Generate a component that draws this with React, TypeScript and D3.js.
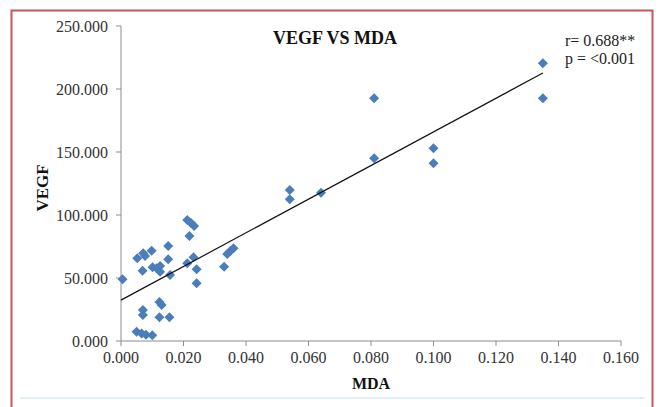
import React from "react";
import * as d3 from "d3";

const mda = [0.0005, 0.005, 0.0066, 0.008, 0.010, 0.007, 0.007, 0.0123, 0.013, 0.0123, 0.0155,
  0.0052, 0.0071, 0.0077, 0.0098, 0.0069, 0.0101, 0.0114, 0.0125, 0.0125, 0.0151, 0.0151, 0.0157,
  0.0212, 0.0223, 0.0234, 0.0219, 0.0212, 0.0232, 0.0242, 0.0242, 0.033, 0.034, 0.035, 0.036,
  0.054, 0.054, 0.064, 0.081, 0.081, 0.100, 0.100, 0.135, 0.135];
const vegf = [49, 7.4, 6, 5, 4.5, 24.6, 20.6, 31, 28.6, 18.8, 18.8,
  65.6, 69.6, 67.5, 71.7, 55.8, 58.5, 57.7, 59.5, 55, 75.4, 64.8, 52.4,
  96, 93.9, 91.3, 83.3, 61.7, 66.4, 56.9, 45.8, 59, 69, 71.4, 73.6,
  119.8, 112.5, 117.7, 192.6, 145, 152.9, 141, 220.4, 192.6];
const xTicks = [0, 0.02, 0.04, 0.06, 0.08, 0.1, 0.12, 0.14, 0.16];
const yTicks = [0, 50, 100, 150, 200, 250];
const title = "VEGF VS MDA";
const xLabel = "MDA";
const yLabel = "VEGF";
const stats = ["r= 0.688**", "p = <0.001"];

export default function App() {
  const W = 660, H = 407;
  const left = 121, right = 621, top = 26, bottom = 341;
  const x = d3.scaleLinear().domain([0, 0.16]).range([left, right]);
  const y = d3.scaleLinear().domain([0, 250]).range([bottom, top]);
  const pts = mda.map((v, i) => [v, vegf[i]] as [number, number]);
  const mx = d3.mean(mda)!, my = d3.mean(vegf)!;
  let sxy = 0, sxx = 0;
  pts.forEach(([a, b]) => { sxy += (a - mx) * (b - my); sxx += (a - mx) * (a - mx); });
  const slope = sxy / sxx, icpt = my - slope * mx;
  const xMax = d3.max(mda)!;
  const line = d3.line<number>().x(d => x(d)).y(d => y(icpt + slope * d));
  const sym = d3.symbol().type(d3.symbolSquare).size(50)();
  const font = "'Liberation Serif', 'Times New Roman', serif";
  const axisCol = "#8c8c8c";
  return (
    <svg width={W} height={H} style={{ position: "absolute", left: 0, top: 0, background: "#fff" }} fontFamily={font}>
      <rect x={0} y={0} width={W} height={H} fill="#fff" />
      <line x1={20} x2={645} y1={398} y2={398} stroke="#e4eef8" strokeWidth={2} />
      <rect x={11.5} y={10.5} width={641} height={420} fill="none" stroke="#c8555a" strokeWidth={2} />
      <line x1={left} x2={left} y1={top} y2={bottom} stroke={axisCol} strokeWidth={1} />
      <line x1={left} x2={right} y1={bottom} y2={bottom} stroke={axisCol} strokeWidth={1} />
      {yTicks.map(t => (
        <g key={"y" + t}>
          <line x1={left - 5} x2={left} y1={y(t)} y2={y(t)} stroke={axisCol} />
          <text x={108} y={y(t) + 5.5} textAnchor="end" fontSize={16} fill="#333">{t.toFixed(3)}</text>
        </g>
      ))}
      {xTicks.map(t => (
        <g key={"x" + t}>
          <line x1={x(t)} x2={x(t)} y1={bottom} y2={bottom + 5} stroke={axisCol} />
          <text x={x(t)} y={bottom + 22} textAnchor="middle" fontSize={16} fill="#333">{t.toFixed(3)}</text>
        </g>
      ))}
      {pts.map(([a, b], i) => (
        <path key={i} d={sym!} transform={`translate(${x(a)},${y(b)}) rotate(45)`} fill="#4a7ebb" />
      ))}
      <path d={line([0, xMax])!} fill="none" stroke="#111" strokeWidth={1.2} />
      <text x={335} y={44} textAnchor="middle" fontSize={18} fontWeight="bold" fill="#111">{title}</text>
      <text x={371} y={389} textAnchor="middle" fontSize={16} fontWeight="bold" fill="#111">{xLabel}</text>
      <text transform={`translate(48,188) rotate(-90)`} textAnchor="middle" fontSize={17} fontWeight="bold" fill="#111">{yLabel}</text>
      {stats.map((s, i) => (
        <text key={s} x={565} y={46 + i * 18} fontSize={16} fill="#222">{s}</text>
      ))}
    </svg>
  );
}
